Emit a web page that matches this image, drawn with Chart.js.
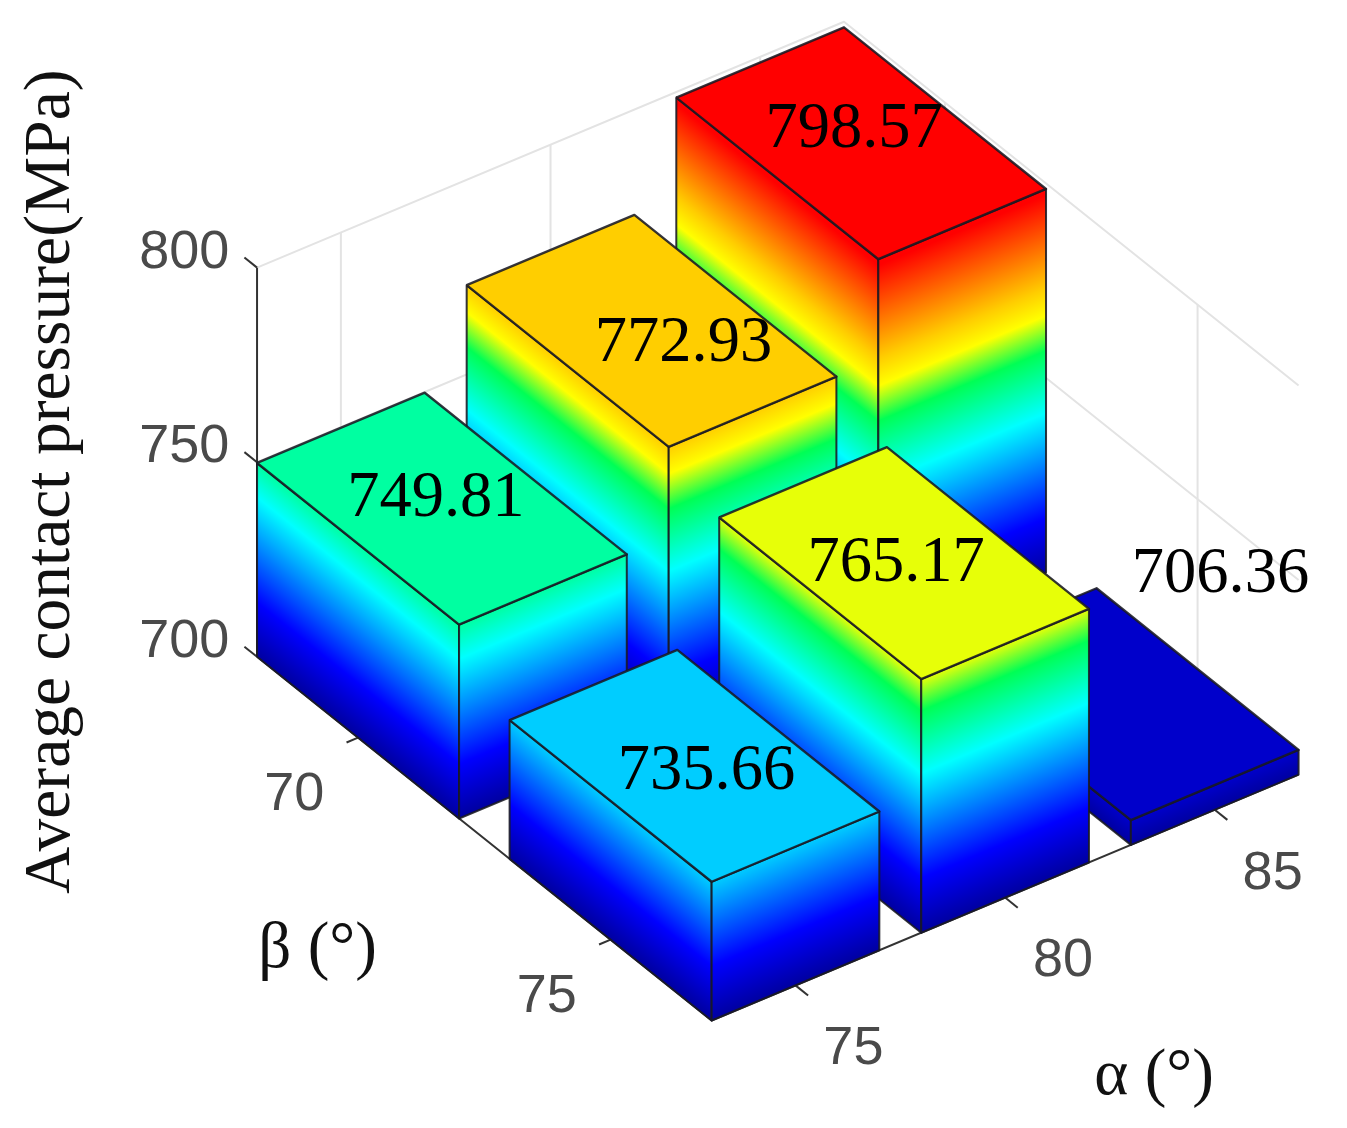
<!DOCTYPE html>
<html>
<head>
<meta charset="utf-8">
<style>html,body{margin:0;padding:0;background:#fff}canvas{display:block;filter:blur(0.5px)}</style>
<script src="https://cdn.jsdelivr.net/npm/chart.js@4"></script>
</head>
<body>
<canvas id="c" width="1347" height="1128"></canvas>
<script>
const alphaTicks = [75, 80, 85];
const betaTicks = [70, 75];
const pressureTicks = [700, 750, 800];
const pressureBeta70 = [749.81, 772.93, 798.57];
const pressureBeta75 = [735.66, 765.17, 706.36];
const colorValues = [700, 714, 741, 757, 766, 773, 797];
const colorRed = [0, 0, 0, 0, 255, 255, 255];
const colorGreen = [0, 0, 255, 255, 255, 205, 0];
const colorBlue = [160, 255, 255, 85, 0, 0, 0];

// oblique projection of (alpha index, beta index, pressure) into the chart's x/y value space
const ORIGIN = {x: 441.5, y: 702.8}, STEP_A = {x: 210, y: -88}, STEP_B = {x: 253, y: 202.5}, PER_MPA = 3.9;
const BASE = pressureTicks[0], HALF = 0.4;
const project = (i, j, v) => ({
  x: ORIGIN.x + i * STEP_A.x + j * STEP_B.x,
  y: ORIGIN.y + i * STEP_A.y + j * STEP_B.y - (v - BASE) * PER_MPA
});

function colorAt(v) {
  let k = 0;
  while (k < colorValues.length - 2 && v > colorValues[k + 1]) k++;
  const t = Math.min(1, Math.max(0, (v - colorValues[k]) / (colorValues[k + 1] - colorValues[k])));
  const mix = a => Math.round(a[k] + (a[k + 1] - a[k]) * t);
  return `rgb(${mix(colorRed)},${mix(colorGreen)},${mix(colorBlue)})`;
}

const sideFill = (from, to, peak) => c => {
  const sx = c.chart.scales.x, sy = c.chart.scales.y;
  if (!sx || !sy || !c.chart.chartArea) return 'transparent';
  const px = p => ({x: sx.getPixelForValue(p.x), y: sy.getPixelForValue(p.y)});
  const a = px(from), b = px(to), h = px({x: from.x, y: from.y - (peak - BASE) * PER_MPA});
  const ex = b.x - a.x, ey = b.y - a.y, nx = -ey, ny = ex;
  const hy = h.y - a.y, dot = (hy * ny) / (nx * nx + ny * ny);
  if (![a.x, a.y, nx, ny, dot].every(Number.isFinite)) return 'transparent';
  const g = c.chart.ctx.createLinearGradient(a.x, a.y, a.x + nx * dot, a.y + ny * dot);
  colorValues.forEach(v => { if (v < peak) g.addColorStop((v - BASE) / (peak - BASE), colorAt(v)); });
  g.addColorStop(1, colorAt(peak));
  return g;
};

const datasets = [];
const poly = (points, bg, border, width) => datasets.push({
  type: 'scatter', showLine: true, data: points, fill: bg ? 'shape' : false,
  backgroundColor: bg || 'transparent', borderColor: border, borderWidth: width,
  pointRadius: 0, pointHoverRadius: 0, tension: 0, clip: false, borderJoinStyle: 'round'
});

const GRID = '#e3e3e3', AXIS = '#333333', EDGE = 'rgba(25,25,35,0.88)';
const aMin = -HALF, aMax = alphaTicks.length - 1 + HALF, bMin = -HALF, bMax = betaTicks.length - 1 + HALF;
const zMax = pressureTicks[pressureTicks.length - 1];

// back walls
pressureTicks.slice(1).forEach(v => {
  poly([project(aMin, bMin, v), project(aMax, bMin, v), project(aMax, bMax, v)], null, GRID, 2);
});
alphaTicks.forEach((_, i) => poly([project(i, bMin, BASE), project(i, bMin, zMax)], null, GRID, 2));
betaTicks.forEach((_, j) => poly([project(aMax, j, BASE), project(aMax, j, zMax)], null, GRID, 2));

// axes
poly([project(aMin, bMin, BASE), project(aMin, bMin, zMax)], null, AXIS, 2);
poly([project(aMin, bMin, BASE), project(aMin, bMax, BASE), project(aMax, bMax, BASE)], null, AXIS, 2);
pressureTicks.forEach(v => poly([project(aMin, bMin, v), project(aMin, bMin - 0.05, v)], null, AXIS, 2));
betaTicks.forEach((_, j) => poly([project(aMin, j, BASE), project(aMin - 0.055, j, BASE)], null, AXIS, 2));
alphaTicks.forEach((_, i) => poly([project(i, bMax, BASE), project(i, bMax + 0.05, BASE)], null, AXIS, 2));

// bars, painted back to front
[pressureBeta70, pressureBeta75].forEach((row, j) => {
  for (let i = row.length - 1; i >= 0; i--) {
    const v = row[i];
    const a0 = i - HALF, a1 = i + HALF, b0 = j - HALF, b1 = j + HALF;
    const lf = project(a0, b0, BASE), ff = project(a0, b1, BASE), rf = project(a1, b1, BASE);
    const lt = project(a0, b0, v), ft = project(a0, b1, v), rt = project(a1, b1, v), bt = project(a1, b0, v);
    poly([lf, ff, ft, lt, lf], sideFill(lf, ff, v), EDGE, 2);
    poly([ff, rf, rt, ft, ff], sideFill(ff, rf, v), EDGE, 2);
    poly([lt, ft, rt, bt, lt], colorAt(v), EDGE, 2.4);
  }
});

// label centre offsets from each bar's top centre (beta row, alpha index)
const LABEL_OFFSETS = [
  [{x: -6, y: -10}, {x: 32, y: 13}, {x: -7, y: -13}],
  [{x: 12, y: 6}, {x: -8, y: 1}, {x: 107, y: -129}]
];

const textPlugin = {
  id: 'text3d',
  afterDatasetsDraw(chart) {
    const {ctx, scales: {x: sx, y: sy}} = chart;
    const put = (s, p, font, color, rot) => {
      ctx.save();
      ctx.translate(sx.getPixelForValue(p.x), sy.getPixelForValue(p.y));
      if (rot) ctx.rotate(rot);
      ctx.font = font; ctx.fillStyle = color;
      ctx.textAlign = 'center'; ctx.textBaseline = 'middle';
      ctx.fillText(s, 0, 0);
      ctx.restore();
    };
    const shift = (p, dx, dy) => ({x: p.x + dx, y: p.y + dy});
    const TICK = '54px "Liberation Sans"', TICKC = '#4a4a4a';
    const SERIF = '"Liberation Serif"';
    pressureTicks.forEach(v => put(String(v), shift(project(aMin, bMin, v), -73, -15), TICK, TICKC));
    betaTicks.forEach((b, j) => put(String(b), shift(project(aMin, j, BASE), -64, 58), TICK, TICKC));
    alphaTicks.forEach((a, i) => put(String(a), shift(project(i, bMax, BASE), 58, 64), TICK, TICKC));
    [pressureBeta70, pressureBeta75].forEach((row, j) => row.forEach((v, i) => {
      const o = LABEL_OFFSETS[j][i];
      put(v.toFixed(2), shift(project(i, j, v), o.x, o.y), `64.5px ${SERIF}`, '#000');
    }));
    put('Average contact pressure(MPa)', {x: 51, y: 481.5}, `65.5px ${SERIF}`, '#111', -Math.PI / 2);
    put('β (°)', {x: 317, y: 951}, `65px ${SERIF}`, '#111');
    put('α (°)', {x: 1155, y: 1078}, `65px ${SERIF}`, '#111');
  }
};

const chart = new Chart(document.getElementById('c'), {
  type: 'scatter',
  data: {datasets: datasets.reverse()},
  options: {
    responsive: false, animation: false, devicePixelRatio: 1,
    layout: {padding: 0},
    plugins: {legend: {display: false}, tooltip: {enabled: false}, title: {display: false}},
    scales: {
      x: {type: 'linear', min: 0, max: 1347, display: false},
      y: {type: 'linear', min: 0, max: 1128, reverse: true, display: false}
    }
  },
  plugins: [textPlugin]
});
chart.update();
</script>
</body>
</html>
